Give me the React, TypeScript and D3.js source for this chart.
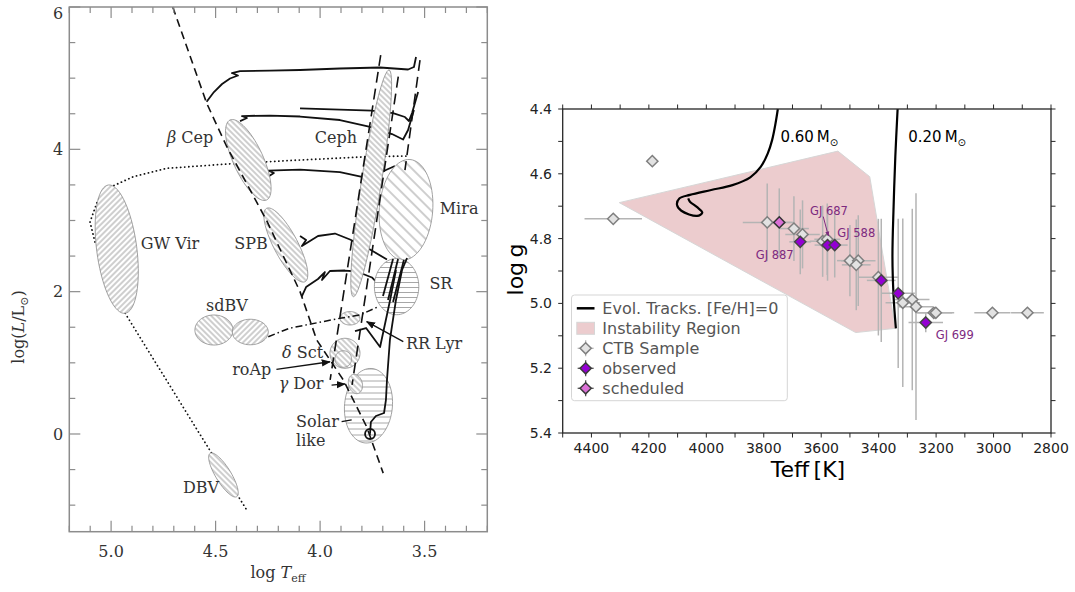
import React from 'react';
import * as d3 from 'd3';

type Pt = [number, number];

// ---------- left panel: pulsation HR diagram (log Teff, log L/Lsun) ----------
const zamsLine: Pt[] = [[4.705, 6.0], [4.543, 4.65], [4.447, 4.04], [4.256, 3.0], [4.096, 2.0], [4.016, 1.32], [3.889, 0.76], [3.777, 0.1], [3.698, -0.55]];
const blueEdge: Pt[] = [[3.71, 5.325], [3.952, 0.759]];
const redEdge: Pt[] = [[3.626, 5.02], [3.847, 0.69]];
const coolEdge: Pt[] = [[3.522, 5.255], [3.594, 3.709]];
const postAgb: Pt[] = [[5.077, 2.698], [5.101, 2.979], [5.063, 3.288], [4.991, 3.485], [4.894, 3.615], [4.734, 3.733], [4.415, 3.8], [4.096, 3.85], [3.777, 3.896], [3.586, 3.906]];
const wdCooling: Pt[] = [[4.933, 1.696], [4.351, -1.068]];
const horizBranch: Pt[] = [[4.248, 1.367], [4.148, 1.485], [3.905, 1.626], [3.809, 1.672], [3.722, 1.789]];

const massiveTracks: Pt[][] = [
  [[4.543, 4.669], [4.508, 4.805], [4.469, 4.918], [4.431, 4.995], [4.393, 5.037], [4.422, 5.072], [4.383, 5.1], [4.24, 5.107], [4.096, 5.115], [3.905, 5.136], [3.713, 5.15], [3.579, 5.122], [3.551, 5.157], [3.541, 5.297]],
  [[4.096, 4.576], [3.905, 4.559], [3.752, 4.543], [3.651, 4.51], [3.594, 4.454], [3.575, 4.398], [3.56, 4.51], [3.531, 4.805]],
  [[4.383, 4.397], [4.35, 4.44], [4.374, 4.468], [4.24, 4.475], [4.096, 4.461], [3.905, 4.412], [3.761, 4.314], [3.656, 4.215], [3.603, 4.138], [3.579, 4.272], [3.551, 4.552]],
  [[4.259, 3.597], [4.221, 3.667], [4.249, 3.702], [4.096, 3.716], [3.905, 3.681], [3.761, 3.59], [3.685, 3.709], [3.642, 3.766]],
  [[4.096, 2.782], [4.067, 2.726], [4.087, 2.642], [4.01, 2.782], [3.929, 2.817], [3.857, 2.733], [3.761, 2.592], [3.68, 2.452]],
  [[4.088, 1.929], [4.067, 2.065], [4.01, 2.178], [3.977, 2.276], [3.991, 2.164], [3.953, 2.29], [3.881, 2.297], [3.824, 2.283], [3.752, 2.199], [3.694, 2.023]],
];
const lowMassTracks: Pt[][] = [
  [[3.761, 0.01], [3.757, 0.169], [3.733, 0.253], [3.694, 0.295], [3.685, 0.478], [3.68, 0.759], [3.666, 1.321], [3.637, 1.883], [3.608, 2.304], [3.584, 2.473]],
  [[3.833, 1.447], [3.78, 1.489], [3.713, 1.222], [3.665, 1.883], [3.637, 2.304]],
  [[3.651, 2.459], [3.699, 1.939]],
  [[3.627, 2.459], [3.675, 1.883]],
  [[3.599, 2.445], [3.651, 1.855]],
];
const sunPoint: Pt = [3.761, 0.0];

// pulsator regions: long-axis end points (logTeff, logL), width ratio, hatch
const regions = [
  { name: 'GW Vir', a: [5.013, 3.499], b: [4.933, 1.696], w: 0.31, hatch: 'fwd4' },
  { name: 'beta Cep', a: [4.431, 4.412], b: [4.256, 3.288], w: 0.34, hatch: 'back4' },
  { name: 'SPB', a: [4.256, 3.171], b: [4.072, 2.14], w: 0.29, hatch: 'back4' },
  { name: 'Ceph', a: [3.67, 5.115], b: [3.841, 1.929], w: 0.087, hatch: 'back4' },
  { name: 'Mira', a: [3.57, 3.857], b: [3.608, 2.445], w: 0.53, hatch: 'back8' },
  { name: 'SR', a: [3.634, 2.466], b: [3.634, 1.676], w: 0.79, hatch: 'horiz5' },
  { name: 'sdBV a', a: [4.599, 1.461], b: [4.417, 1.461], w: 0.79, hatch: 'back4' },
  { name: 'sdBV b', a: [4.42, 1.433], b: [4.248, 1.433], w: 0.71, hatch: 'fwd4' },
  { name: 'RR Lyr', a: [3.905, 1.626], b: [3.809, 1.626], w: 0.67, hatch: 'back4' },
  { name: 'delta Sct', a: [3.881, 1.345], b: [3.881, 0.923], w: 1.0, hatch: 'back4' },
  { name: 'roAp', a: [3.889, 1.17], b: [3.889, 0.937], w: 1.0, hatch: 'back4' },
  { name: 'Solar', a: [3.752, 0.92], b: [3.785, -0.126], w: 0.64, hatch: 'horiz6' },
  { name: 'gamma Dor', a: [3.843, 0.836], b: [3.819, 0.569], w: 0.7, hatch: 'back4' },
  { name: 'DBV', a: [4.526, -0.271], b: [4.399, -0.881], w: 0.3, hatch: 'back4' },
];

const regionLabels = [
  { greek: 'β', text: ' Cep', at: [4.622, 4.173] },
  { greek: '', text: 'Ceph', at: [3.924, 4.173] },
  { greek: '', text: 'Mira', at: [3.335, 3.175] },
  { greek: '', text: 'GW Vir', at: [4.718, 2.684] },
  { greek: '', text: 'SPB', at: [4.331, 2.684] },
  { greek: '', text: 'SR', at: [3.422, 2.122] },
  { greek: '', text: 'sdBV', at: [4.446, 1.813] },
  { greek: '', text: 'RR Lyr', at: [3.455, 1.279] },
  { greek: 'δ', text: ' Sct', at: [4.084, 1.152] },
  { greek: '', text: 'roAp', at: [4.327, 0.913] },
  { greek: 'γ', text: ' Dor', at: [4.091, 0.717] },
  { greek: '', text: 'DBV', at: [4.57, -0.745] },
];
const pointers = [
  { from: [4.209, 0.908], to: [3.953, 1.015], head: true },
  { from: [3.945, 0.688], to: [3.881, 0.703], head: true },
  { from: [3.602, 1.297], to: [3.777, 1.578], head: true },
  { from: [3.897, 0.173], to: [3.849, 0.197], head: false },
];

const lumTicks = [-1, -0.5, 0, 0.5, 1, 1.5, 2, 2.5, 3, 3.5, 4, 4.5, 5, 5.5, 6];
const lumLabels = [0, 2, 4, 6];
const tempTicks = d3.range(32, 53).map((i) => i / 10);
const tempLabels = [5.0, 4.5, 4.0, 3.5];

// ---------- right panel: CTB sample in Teff / log g ----------
const ctbTeff = [4188, 4324, 3788, 3695, 3665, 3595, 3579, 3500, 3471, 3478, 3401, 3316, 3283, 3270, 3208, 3201, 3004, 2882];
const ctbLogg = [4.561, 4.739, 4.75, 4.769, 4.787, 4.808, 4.802, 4.868, 4.868, 4.881, 4.919, 4.998, 4.988, 5.01, 5.029, 5.029, 5.029, 5.029];
const ctbTeffErr = [0, 100, 85, 52, 60, 45, 45, 45, 60, 50, 70, 60, 60, 60, 64, 64, 63, 57];
const ctbLoggErr = [0, 0, 0.12, 0.1, 0.105, 0.11, 0.11, 0.11, 0.14, 0.14, 0.18, 0.26, 0.28, 0.35, 0, 0, 0, 0];

const obsTeff = [3673, 3578, 3553, 3391, 3332, 3236];
const obsLogg = [4.81, 4.82, 4.82, 4.929, 4.969, 5.059];
const obsTeffErr = [38, 45, 45, 50, 58, 60];
const obsLoggErr = [0.1, 0.11, 0.1, 0.19, 0.23, 0.03];

const schedTeff = [3746];
const schedLogg = [4.75];
const schedTeffErr = [50];
const schedLoggErr = [0.105];

const instabilityRegion: Pt[] = [[4303, 4.689], [3542, 4.53], [3431, 4.609], [3342, 5.077], [3480, 5.09]];
const track060: Pt[] = [[3751, 4.4], [3759, 4.444], [3771, 4.496], [3786, 4.537], [3810, 4.578], [3847, 4.611], [3909, 4.635], [3983, 4.65], [4057, 4.665], [4094, 4.676], [4102, 4.696], [4087, 4.714], [4032, 4.73], [4014, 4.72], [4032, 4.703], [4057, 4.686], [4063, 4.676]];
const track020: Pt[] = [[3334, 4.4], [3342, 4.547], [3348, 4.702], [3352, 4.856], [3348, 4.979], [3340, 5.077]];
const trackLabels = [
  { mass: '0.60', at: [3742, 4.501] },
  { mass: '0.20', at: [3297, 4.501] },
];
const starLabels = [
  { name: 'GJ 687', at: [3639, 4.727] },
  { name: 'GJ 588', at: [3544, 4.796] },
  { name: 'GJ 887', at: [3828, 4.864] },
  { name: 'GJ 699', at: [3201, 5.11] },
];
const gj687Arrow = { from: [3593, 4.732], to: [3575, 4.792] };

const teffTicks = d3.range(2800, 4501, 100);
const teffLabels = d3.range(2800, 4401, 200);
const loggTicks = d3.range(44, 55).map((i) => i / 10);
const loggLabels = [4.4, 4.6, 4.8, 5.0, 5.2, 5.4];

const legendItems = ['Evol. Tracks. [Fe/H]=0', 'Instability Region', 'CTB Sample', 'observed', 'scheduled'];

// ---------- scales ----------
const xL = d3.scaleLinear().domain([5.2, 3.2]).range([69.3, 487.3]);
const yL = d3.scaleLinear().domain([-1.373, 6]).range([531.7, 7]);
const xR = d3.scaleLinear().domain([4500, 2800]).range([562.7, 1051]);
const yR = d3.scaleLinear().domain([4.4, 5.4]).range([109, 433]);

const lineL = d3.line<Pt>().x((d) => xL(d[0])).y((d) => yL(d[1]));
const lineR = d3.line<Pt>().x((d) => xR(d[0])).y((d) => yR(d[1])).curve(d3.curveCatmullRom);

const SERIF = '"DejaVu Serif", serif';
const SANS = '"DejaVu Sans", sans-serif';
const PINK = '#ecccce';
const ERR = '#b4b4b4';
const CTB_FILL = '#e2e2e2';
const CTB_EDGE = '#7f7f7f';
const OBS_FILL = '#9400d3';
const SCHED_FILL = '#da70d6';
const GJ = '#7d2a7f';

function ellipsePath(a: number[], b: number[], w: number) {
  const ax = xL(a[0]), ay = yL(a[1]), bx = xL(b[0]), by = yL(b[1]);
  const cx = (ax + bx) / 2, cy = (ay + by) / 2;
  const rx = Math.hypot(bx - ax, by - ay) / 2;
  const ry = rx * w;
  const th = Math.atan2(by - ay, bx - ax);
  const pts: Pt[] = d3.range(72).map((i) => {
    const t = (i / 72) * 2 * Math.PI;
    const u = rx * Math.cos(t), v = ry * Math.sin(t);
    return [cx + u * Math.cos(th) - v * Math.sin(th), cy + u * Math.sin(th) + v * Math.cos(th)];
  });
  return d3.line().curve(d3.curveLinearClosed)(pts) as string;
}

function diamond(cx: number, cy: number, r: number) {
  return `M${cx},${cy - r}L${cx + r},${cy}L${cx},${cy + r}L${cx - r},${cy}Z`;
}

const HatchDefs = () => {
  const diag = [['back4', -45, 4], ['fwd4', 45, 4], ['back8', -45, 8]] as const;
  const horiz = [['horiz5', 5], ['horiz6', 6]] as const;
  return (
    <defs>
      {diag.map(([id, ang, s]) => (
        <pattern key={id} id={id} patternUnits="userSpaceOnUse" width={s} height={s} patternTransform={`rotate(${ang})`}>
          <line x1={s / 2} y1={0} x2={s / 2} y2={s} stroke="#7c7c7c" strokeWidth={0.75} />
        </pattern>
      ))}
      {horiz.map(([id, s]) => (
        <pattern key={id} id={id} patternUnits="userSpaceOnUse" width={s} height={s}>
          <line x1={0} y1={s / 2} x2={s} y2={s / 2} stroke="#8a8a8a" strokeWidth={0.75} />
        </pattern>
      ))}
      <marker id="headL" viewBox="0 0 10 10" refX={9} refY={5} markerWidth={7} markerHeight={7} orient="auto">
        <path d="M0,1L10,5L0,9z" fill="#111" />
      </marker>
      <marker id="headR" viewBox="0 0 10 10" refX={9} refY={5} markerWidth={5} markerHeight={5} orient="auto">
        <path d="M0,1L10,5L0,9z" fill={GJ} />
      </marker>
    </defs>
  );
};

const LeftPanel = () => {
  const [x0, x1] = xL.range();
  const [y1, y0] = yL.range();
  const axisCol = '#8c8c8c';
  return (
    <g>
      {/* tracks hidden behind the pulsator regions */}
      <path d={lineL(postAgb) as string} fill="none" stroke="#111" strokeWidth={1.8} strokeDasharray="0.1,4" strokeLinecap="round" />
      <path d={lineL(wdCooling) as string} fill="none" stroke="#111" strokeWidth={1.8} strokeDasharray="0.1,4" strokeLinecap="round" />
      {massiveTracks.map((t, i) => (
        <path key={i} d={lineL(t) as string} fill="none" stroke="#111" strokeWidth={1.8} strokeLinejoin="round" />
      ))}

      {regions.map((r) => {
        const d = ellipsePath(r.a, r.b, r.w);
        return (
          <g key={r.name}>
            <path d={d} fill="#fff" />
            <path d={d} fill={`url(#${r.hatch})`} stroke="#8a8a8a" strokeWidth={0.8} />
          </g>
        );
      })}

      {lowMassTracks.map((t, i) => (
        <path key={i} d={lineL(t) as string} fill="none" stroke="#111" strokeWidth={1.8} strokeLinejoin="round" />
      ))}
      <circle cx={xL(sunPoint[0])} cy={yL(sunPoint[1])} r={5} fill="none" stroke="#111" strokeWidth={1.8} />
      <circle cx={xL(sunPoint[0])} cy={yL(sunPoint[1])} r={0.9} fill="#111" />

      <path d={lineL(zamsLine) as string} fill="none" stroke="#111" strokeWidth={1.6} strokeDasharray="8,5" />
      <path d={lineL(blueEdge) as string} fill="none" stroke="#111" strokeWidth={1.6} strokeDasharray="11,6" />
      <path d={lineL(redEdge) as string} fill="none" stroke="#111" strokeWidth={1.6} strokeDasharray="11,6" />
      <path d={lineL(coolEdge) as string} fill="none" stroke="#111" strokeWidth={1.6} strokeDasharray="11,6" />
      <path d={lineL(horizBranch) as string} fill="none" stroke="#111" strokeWidth={1.5} strokeDasharray="7,3,1.5,3" />

      {pointers.map((p, i) => (
        <line key={i} x1={xL(p.from[0])} y1={yL(p.from[1])} x2={xL(p.to[0])} y2={yL(p.to[1])}
          stroke="#111" strokeWidth={1.3} markerEnd={p.head ? 'url(#headL)' : undefined} />
      ))}

      <g fontFamily={SERIF} fontSize={16} fill="#333">
        {regionLabels.map((l) => (
          <text key={l.text} x={xL(l.at[0])} y={yL(l.at[1])} textAnchor="middle" dy="0.35em">
            {l.greek && <tspan fontStyle="italic">{l.greek}</tspan>}
            {l.text}
          </text>
        ))}
        <text x={xL(4.115)} y={yL(0.173)} dy="0.35em">Solar</text>
        <text x={xL(4.115)} y={yL(-0.084)} dy="0.35em">like</text>
      </g>

      {/* frame and inward ticks */}
      <rect x={x0} y={y0} width={x1 - x0} height={y1 - y0} fill="none" stroke={axisCol} strokeWidth={1.5} />
      <g stroke={axisCol} strokeWidth={1.2}>
        {tempTicks.map((v) => {
          const len = Math.abs(v * 2 - Math.round(v * 2)) < 1e-6 ? 11 : 6;
          return (
            <g key={v}>
              <line x1={xL(v)} x2={xL(v)} y1={y1} y2={y1 - len} />
              <line x1={xL(v)} x2={xL(v)} y1={y0} y2={y0 + len} />
            </g>
          );
        })}
        {lumTicks.map((v) => {
          const len = lumLabels.includes(v) ? 11 : 6;
          return (
            <g key={v}>
              <line x1={x0} x2={x0 + len} y1={yL(v)} y2={yL(v)} />
              <line x1={x1} x2={x1 - len} y1={yL(v)} y2={yL(v)} />
            </g>
          );
        })}
      </g>
      <g fontFamily={SERIF} fontSize={16} fill="#333">
        {lumLabels.map((v) => (
          <text key={v} x={x0 - 6} y={Math.max(yL(v), 13)} dy="0.35em" textAnchor="end">{v}</text>
        ))}
        {tempLabels.map((v) => (
          <text key={v} x={xL(v)} y={557} textAnchor="middle">{v.toFixed(1)}</text>
        ))}
        <text x={278} y={578} textAnchor="middle">
          log <tspan fontStyle="italic">T</tspan><tspan fontSize={11} dy={4}>eff</tspan>
        </text>
        <text transform="translate(24,327) rotate(-90)" textAnchor="middle">
          log(<tspan fontStyle="italic">L</tspan>/L<tspan fontSize={11} dy={4}>⊙</tspan><tspan dy={-4}>)</tspan>
        </text>
      </g>
    </g>
  );
};

const ErrorBars = ({ teff, logg, dT, dg, color }: { teff: number[]; logg: number[]; dT: number[]; dg: number[]; color: string }) => (
  <g stroke={color} strokeWidth={1.5}>
    {teff.map((t, i) => (
      <g key={i}>
        {dT[i] > 0 && <line x1={xR(t - dT[i])} x2={xR(t + dT[i])} y1={yR(logg[i])} y2={yR(logg[i])} />}
        {dg[i] > 0 && <line x1={xR(t)} x2={xR(t)} y1={yR(logg[i] - dg[i])} y2={yR(logg[i] + dg[i])} />}
      </g>
    ))}
  </g>
);

const Markers = ({ teff, logg, fill, edge }: { teff: number[]; logg: number[]; fill: string; edge: string }) => (
  <g>
    {teff.map((t, i) => (
      <path key={i} d={diamond(xR(t), yR(logg[i]), 5.6)} fill={fill} stroke={edge} strokeWidth={1.5} />
    ))}
  </g>
);

const RightPanel = () => {
  const [x0, x1] = xR.range();
  const [y0, y1] = yR.range();
  const spine = '#262626';
  const lx = 576.8, lw = 17.7, ltx = 602.3;
  const rowY = (i: number) => 308.3 + i * 20;
  return (
    <g>
      <path d={d3.line<Pt>().x((d) => xR(d[0])).y((d) => yR(d[1]))(instabilityRegion) + 'Z'} fill={PINK} stroke="#d6d6d6" strokeWidth={1} />

      <ErrorBars teff={ctbTeff} logg={ctbLogg} dT={ctbTeffErr} dg={ctbLoggErr} color={ERR} />
      <ErrorBars teff={obsTeff} logg={obsLogg} dT={obsTeffErr} dg={obsLoggErr} color={ERR} />
      <ErrorBars teff={schedTeff} logg={schedLogg} dT={schedTeffErr} dg={schedLoggErr} color={ERR} />

      <path d={lineR(track060) as string} fill="none" stroke="#000" strokeWidth={2.2} />
      <path d={lineR(track020) as string} fill="none" stroke="#000" strokeWidth={2.2} />

      <Markers teff={ctbTeff} logg={ctbLogg} fill={CTB_FILL} edge={CTB_EDGE} />
      <Markers teff={obsTeff} logg={obsLogg} fill={OBS_FILL} edge="#444" />
      <Markers teff={schedTeff} logg={schedLogg} fill={SCHED_FILL} edge="#333" />

      <g fontFamily={SANS} fontSize={15} fill="#000">
        {trackLabels.map((l) => (
          <text key={l.mass} x={xR(l.at[0])} y={yR(l.at[1])}>
            {l.mass}{'\u2009'}M<tspan fontSize={10} dy={4}>⊙</tspan>
          </text>
        ))}
      </g>
      <g fontFamily={SANS} fontSize={11.5} fill={GJ}>
        {starLabels.map((l) => (
          <text key={l.name} x={xR(l.at[0])} y={yR(l.at[1])}>{l.name}</text>
        ))}
      </g>
      <line x1={xR(gj687Arrow.from[0])} y1={yR(gj687Arrow.from[1])} x2={xR(gj687Arrow.to[0])} y2={yR(gj687Arrow.to[1])}
        stroke={GJ} strokeWidth={1} markerEnd="url(#headR)" />

      {/* legend */}
      <rect x={571.5} y={295} width={215.8} height={105.7} rx={3} fill="#fff" fillOpacity={0.8} stroke="#d5d5d5" />
      <line x1={lx} x2={lx + lw} y1={rowY(0)} y2={rowY(0)} stroke="#000" strokeWidth={2.5} />
      <rect x={lx} y={rowY(1) - 6} width={lw} height={12} fill={PINK} stroke="#d6d6d6" />
      {[2, 3, 4].map((i) => {
        const cx = lx + lw / 2, cy = rowY(i);
        const fill = i === 2 ? CTB_FILL : i === 3 ? OBS_FILL : SCHED_FILL;
        const edge = i === 2 ? CTB_EDGE : '#3a3a3a';
        return (
          <g key={i}>
            <line x1={cx - 8} x2={cx + 8} y1={cy} y2={cy} stroke={i === 2 ? ERR : '#555'} strokeWidth={1.3} />
            <line x1={cx} x2={cx} y1={cy - 8} y2={cy + 8} stroke={i === 2 ? ERR : '#555'} strokeWidth={1.3} />
            <path d={diamond(cx, cy, 5.6)} fill={fill} stroke={edge} strokeWidth={1.5} />
          </g>
        );
      })}
      <g fontFamily={SANS} fontSize={16} fill="#555">
        {legendItems.map((t, i) => (
          <text key={t} x={ltx} y={rowY(i)} dy="0.36em">{t}</text>
        ))}
      </g>

      {/* frame and outward ticks */}
      <rect x={x0} y={y0} width={x1 - x0} height={y1 - y0} fill="none" stroke={spine} strokeWidth={1.3} />
      <g stroke={spine} strokeWidth={1}>
        {teffTicks.map((v) => (
          <g key={v}>
            <line x1={xR(v)} x2={xR(v)} y1={y1} y2={y1 + 4.5} />
            <line x1={xR(v)} x2={xR(v)} y1={y0} y2={y0 - 4.5} />
          </g>
        ))}
        {loggTicks.map((v) => (
          <g key={v}>
            <line x1={x0} x2={x0 - 4.5} y1={yR(v)} y2={yR(v)} />
            <line x1={x1} x2={x1 + 4.5} y1={yR(v)} y2={yR(v)} />
          </g>
        ))}
      </g>
      <g fontFamily={SANS} fontSize={14} fill="#222">
        {teffLabels.map((v) => (
          <text key={v} x={xR(v)} y={453} textAnchor="middle">{v}</text>
        ))}
        {loggLabels.map((v) => (
          <text key={v} x={552} y={yR(v)} dy="0.35em" textAnchor="end">{v.toFixed(1)}</text>
        ))}
      </g>
      <g fontFamily={SANS} fontSize={22} fill="#000">
        <text x={808} y={477} textAnchor="middle">Teff{'\u2009'}[K]</text>
        <text transform="translate(523,269.5) rotate(-90)" textAnchor="middle">log{'\u2009'}g</text>
      </g>
    </g>
  );
};

export default function App() {
  return (
    <svg width={1075} height={592} style={{ position: 'absolute', left: 0, top: 0, background: '#fff' }}>
      <HatchDefs />
      <LeftPanel />
      <RightPanel />
    </svg>
  );
}
